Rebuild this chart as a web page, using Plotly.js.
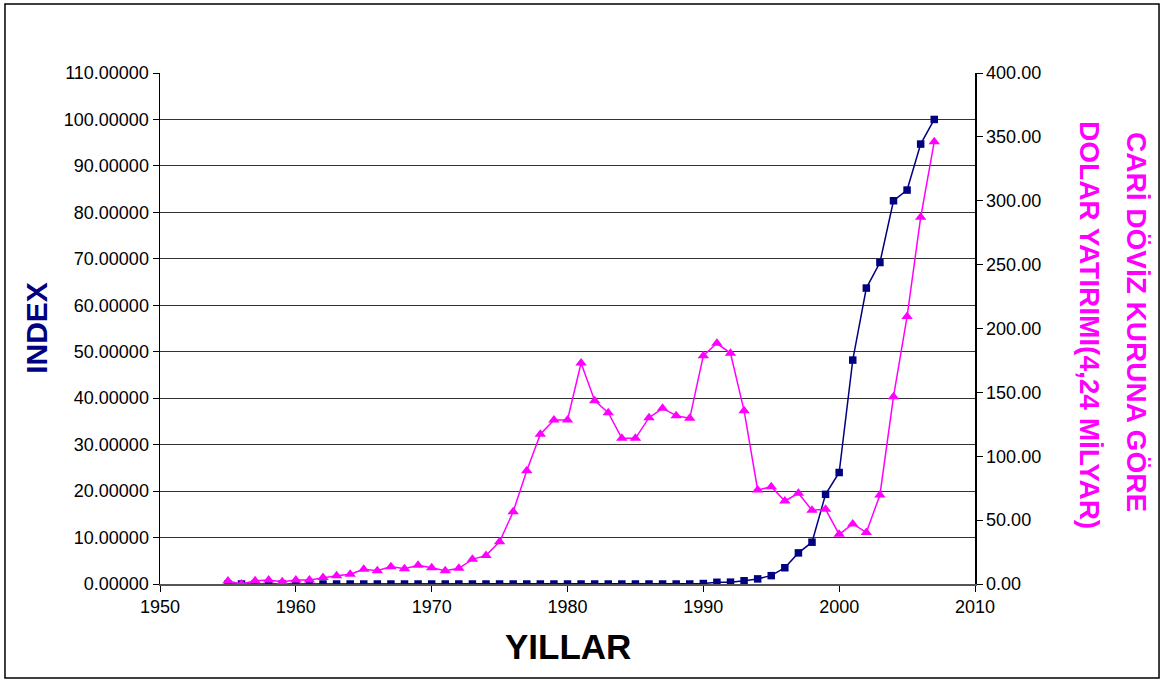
<!DOCTYPE html>
<html>
<head>
<meta charset="utf-8">
<script src="https://cdn.plot.ly/plotly-3.0.1.min.js"></script>
<style>html,body{margin:0;padding:0;background:#fff;}#chart{width:1164px;height:682px;}</style>
</head>
<body>
<div id="chart"></div>
<script>
const years = [1955,1956,1957,1958,1959,1960,1961,1962,1963,1964,1965,1966,1967,1968,1969,1970,
  1971,1972,1973,1974,1975,1976,1977,1978,1979,1980,1981,1982,1983,1984,1985,1986,1987,1988,1989,
  1990,1991,1992,1993,1994,1995,1996,1997,1998,1999,2000,2001,2002,2003,2004,2005,2006,2007];

const indexValues = [0,0,0,0,0,0,0,0,0,0,0,0,0,0,0,0,
  0,0,0,0,0,0,0,0,0,0,0,0,0,0,0,0,0,0,0,
  0.1,0.37,0.4,0.7,1.1,1.8,3.5,6.7,9.0,19.3,24.0,48.2,63.7,69.2,82.5,84.8,94.7,100.0];

const dollarInvestment = [2.3,0,2.6,3.1,1.8,3.1,3.1,5,6.5,7.6,11.5,10.4,13.6,12,14.6,12.8,
  10.4,12.3,19.3,22.4,33,56.6,88.7,117.2,128.4,128.4,173,143.5,134.1,114,114,130.2,137.5,131.8,129.7,
  178.7,188.4,180.6,135.7,73.6,76.2,65,71,57.7,58.5,38.9,47,40.4,69.7,146.6,209.3,287,346.2];

const leftTicks = [0,10,20,30,40,50,60,70,80,90,100,110];
const rightTicks = [0,50,100,150,200,250,300,350,400];
const xTicks = [1950,1960,1970,1980,1990,2000,2010];

const rightTitleLines = ['CARİ DÖVİZ KURUNA GÖRE', 'DOLAR YATIRIMI(4,24 MİLYAR)'];

const tickFont = {family: 'Liberation Sans, Arial, sans-serif', size: 18, color: '#000'};
const titleFamily = 'Liberation Sans, Arial, sans-serif';

const traces = [
  {
    x: years, y: indexValues, name: 'INDEX', type: 'scatter', mode: 'lines+markers',
    line: {color: '#000080', width: 1.5},
    marker: {symbol: 'square', size: 7.5, color: '#000080'},
    yaxis: 'y'
  },
  {
    x: years, y: dollarInvestment, name: 'DOLAR', type: 'scatter', mode: 'lines+markers',
    line: {color: '#FF00FF', width: 1.5},
    marker: {symbol: 'triangle-up', size: 10, color: '#FF00FF'},
    yaxis: 'y2'
  }
];

const layout = {
  width: 1164, height: 682,
  margin: {l: 160, r: 189, t: 73, b: 98},
  paper_bgcolor: '#fff', plot_bgcolor: '#fff',
  showlegend: false,
  xaxis: {
    range: [1950, 2010], tickvals: xTicks, ticktext: xTicks.map(String),
    ticks: 'outside', ticklen: 6, tickcolor: '#000', showline: true, linecolor: '#555', linewidth: 1.5,
    showgrid: false, zeroline: false, tickfont: tickFont
  },
  yaxis: {
    range: [0, 110], tickvals: leftTicks, ticktext: leftTicks.map(v => v.toFixed(5)),
    ticks: 'outside', ticklen: 6, tickcolor: '#000', showline: true, linecolor: '#000', linewidth: 1.5,
    showgrid: true, gridcolor: '#333', gridwidth: 1, zeroline: false, tickfont: tickFont
  },
  yaxis2: {
    range: [0, 400], tickvals: rightTicks, ticktext: rightTicks.map(v => v.toFixed(2)),
    overlaying: 'y', side: 'right', anchor: 'x',
    ticks: 'outside', ticklen: 6, tickcolor: '#000', showline: true, linecolor: '#000', linewidth: 1.5,
    showgrid: false, zeroline: false, tickfont: tickFont
  },
  annotations: [
    {text: 'INDEX', xref: 'paper', yref: 'paper', x: -0.1517, y: 0.502, xanchor: 'center', yanchor: 'middle',
     textangle: -90, showarrow: false,
     font: {family: titleFamily, size: 30, color: '#000080', weight: 'bold'}},
    {text: 'YILLAR', xref: 'paper', yref: 'paper', x: 0.5, y: -0.123, xanchor: 'center', yanchor: 'middle',
     showarrow: false,
     font: {family: titleFamily, size: 35, color: '#000', weight: 'bold'}},
    {text: rightTitleLines[0], xref: 'paper', yref: 'paper',
     x: 1.1988, y: 0.5127, xanchor: 'center', yanchor: 'middle', textangle: 90, showarrow: false,
     font: {family: titleFamily, size: 28, color: '#FF00FF', weight: 'bold'}},
    {text: rightTitleLines[1], xref: 'paper', yref: 'paper',
     x: 1.1411, y: 0.5068, xanchor: 'center', yanchor: 'middle', textangle: 90, showarrow: false,
     font: {family: titleFamily, size: 28, color: '#FF00FF', weight: 'bold'}}
  ],
  shapes: [
    {type: 'rect', xref: 'paper', yref: 'paper', x0: -0.1902, x1: 1.2258, y0: -0.184, y1: 1.135,
     line: {color: '#000', width: 1.5}, fillcolor: 'rgba(0,0,0,0)', layer: 'below'}
  ]
};

Plotly.newPlot('chart', traces, layout, {displayModeBar: false, staticPlot: true});
</script>
</body>
</html>
